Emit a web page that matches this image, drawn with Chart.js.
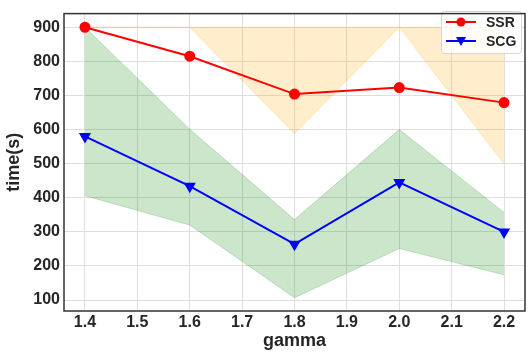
<!DOCTYPE html>
<html>
<head>
<meta charset="utf-8">
<script src="https://cdn.jsdelivr.net/npm/chart.js@4"></script>
<style>
  body { margin: 0; background: #fff; }
  #wrap { width: 532px; height: 354px; }
</style>
</head>
<body>
<div id="wrap"><canvas id="myChart" width="532" height="354"></canvas></div>
<script>
// data
var gamma = [1.4, 1.6, 1.8, 2.0, 2.2];
var ssr = [900, 815, 704, 723, 679];
var ssrUpper = [900, 900, 900, 900, 900];
var ssrLower = [900, 900, 588, 900, 499];
var scg = [580, 434, 264, 445, 300];
var scgUpper = [900, 601, 336, 600, 357];
var scgLower = [406, 320, 107, 251, 174];
var xTicks = [1.4, 1.5, 1.6, 1.7, 1.8, 1.9, 2.0, 2.1, 2.2];
var yTicks = [100, 200, 300, 400, 500, 600, 700, 800, 900];

var FONT = "'Liberation Sans', Arial, sans-serif";
var TEXT = "#262626";

function pts(arr) {
    return arr.map(function (v, i) { return { x: gamma[i], y: v }; });
}

// frame round the plot area
var framePlugin = {
    id: 'frame',
    afterDraw: function (chart) {
        var a = chart.chartArea, ctx = chart.ctx;
        ctx.save();
        ctx.strokeStyle = "#333333";
        ctx.lineWidth = 1.5;
        ctx.strokeRect(a.left, a.top, a.right - a.left, a.bottom - a.top);
        ctx.restore();
    }
};

// legend box with line + marker, like matplotlib
var legendPlugin = {
    id: 'boxLegend',
    afterDatasetsDraw: function (chart) {
        var ctx = chart.ctx;
        ctx.save();
        ctx.beginPath();
        ctx.roundRect(441.5, 11.5, 80, 42, 3);
        ctx.fillStyle = "rgba(255,255,255,0.85)";
        ctx.fill();
        ctx.strokeStyle = "#d6d6d6";
        ctx.lineWidth = 1;
        ctx.stroke();

        var rows = [
            { label: "SSR", color: "red", y: 22, marker: "circle" },
            { label: "SCG", color: "blue", y: 41, marker: "tri" }
        ];
        rows.forEach(function (r) {
            ctx.strokeStyle = r.color;
            ctx.lineWidth = 2;
            ctx.beginPath();
            ctx.moveTo(446, r.y);
            ctx.lineTo(476, r.y);
            ctx.stroke();
            ctx.fillStyle = r.color;
            ctx.beginPath();
            if (r.marker === "circle") {
                ctx.arc(461, r.y, 4.5, 0, Math.PI * 2);
            } else {
                ctx.moveTo(456, r.y - 4);
                ctx.lineTo(466, r.y - 4);
                ctx.lineTo(461, r.y + 5);
                ctx.closePath();
            }
            ctx.fill();
            ctx.fillStyle = TEXT;
            ctx.font = "bold 14px " + FONT;
            ctx.textBaseline = "middle";
            ctx.fillText(r.label, 486, r.y + 1);
        });
        ctx.restore();
    }
};

var ctx = document.getElementById("myChart");
var chart = new Chart(ctx, {
    type: 'line',
    data: {
        datasets: [{
            label: "SSR",
            data: pts(ssr),
            borderColor: "red",
            backgroundColor: "red",
            pointBackgroundColor: "red",
            pointBorderColor: "red",
            borderWidth: 2,
            pointRadius: 4.5,
            pointStyle: 'circle',
            fill: false
        }, {
            label: "SCG",
            data: pts(scg),
            borderColor: "blue",
            backgroundColor: "blue",
            pointBackgroundColor: "blue",
            pointBorderColor: "blue",
            borderWidth: 2,
            pointRadius: 5,
            pointStyle: 'triangle',
            pointRotation: 180,
            fill: false
        }, {
            label: "ssr upper",
            data: pts(ssrUpper),
            borderColor: "rgba(255,165,0,0.2)",
            backgroundColor: "rgba(255,165,0,0.2)",
            borderWidth: 1,
            pointRadius: 0,
            fill: 3
        }, {
            label: "ssr lower",
            data: pts(ssrLower),
            borderColor: "rgba(255,165,0,0.2)",
            borderWidth: 1,
            pointRadius: 0,
            fill: false
        }, {
            label: "scg upper",
            data: pts(scgUpper),
            borderColor: "rgba(0,128,0,0.2)",
            backgroundColor: "rgba(0,128,0,0.2)",
            borderWidth: 1,
            pointRadius: 0,
            fill: 5
        }, {
            label: "scg lower",
            data: pts(scgLower),
            borderColor: "rgba(0,128,0,0.2)",
            borderWidth: 1,
            pointRadius: 0,
            fill: false
        }]
    },
    options: {
        responsive: false,
        animation: false,
        layout: { padding: { top: 4, right: 4, left: 0, bottom: 0 } },
        plugins: {
            legend: { display: false },
            tooltip: { enabled: false }
        },
        scales: {
            x: {
                type: 'linear',
                min: 1.36,
                max: 2.24,
                afterBuildTicks: function (s) {
                    s.ticks = xTicks.map(function (v) { return { value: v }; });
                },
                afterFit: function (s) { s.height = 43; },
                grid: { color: "#dedede", lineWidth: 1, drawTicks: false },
                border: { display: false },
                ticks: {
                    padding: 2,
                    color: TEXT,
                    font: { family: FONT, size: 16, weight: 'bold' },
                    callback: function (v) { return Number(v).toFixed(1); }
                },
                title: {
                    display: true,
                    text: "gamma",
                    color: TEXT,
                    font: { family: FONT, size: 18, weight: 'bold' },
                    padding: { top: 0, bottom: 2 }
                }
            },
            y: {
                min: 68,
                max: 940,
                afterBuildTicks: function (s) {
                    s.ticks = yTicks.map(function (v) { return { value: v }; });
                },
                afterFit: function (s) { s.width = 64; },
                grid: { color: "#dedede", lineWidth: 1, drawTicks: false },
                border: { display: false },
                ticks: {
                    padding: 4,
                    color: TEXT,
                    font: { family: FONT, size: 16, weight: 'bold' }
                },
                title: {
                    display: true,
                    text: "time(s)",
                    color: TEXT,
                    font: { family: FONT, size: 18, weight: 'bold' },
                    padding: { top: 3.5, bottom: 0 }
                }
            }
        }
    },
    plugins: [framePlugin, legendPlugin]
});
</script>
</body>
</html>
